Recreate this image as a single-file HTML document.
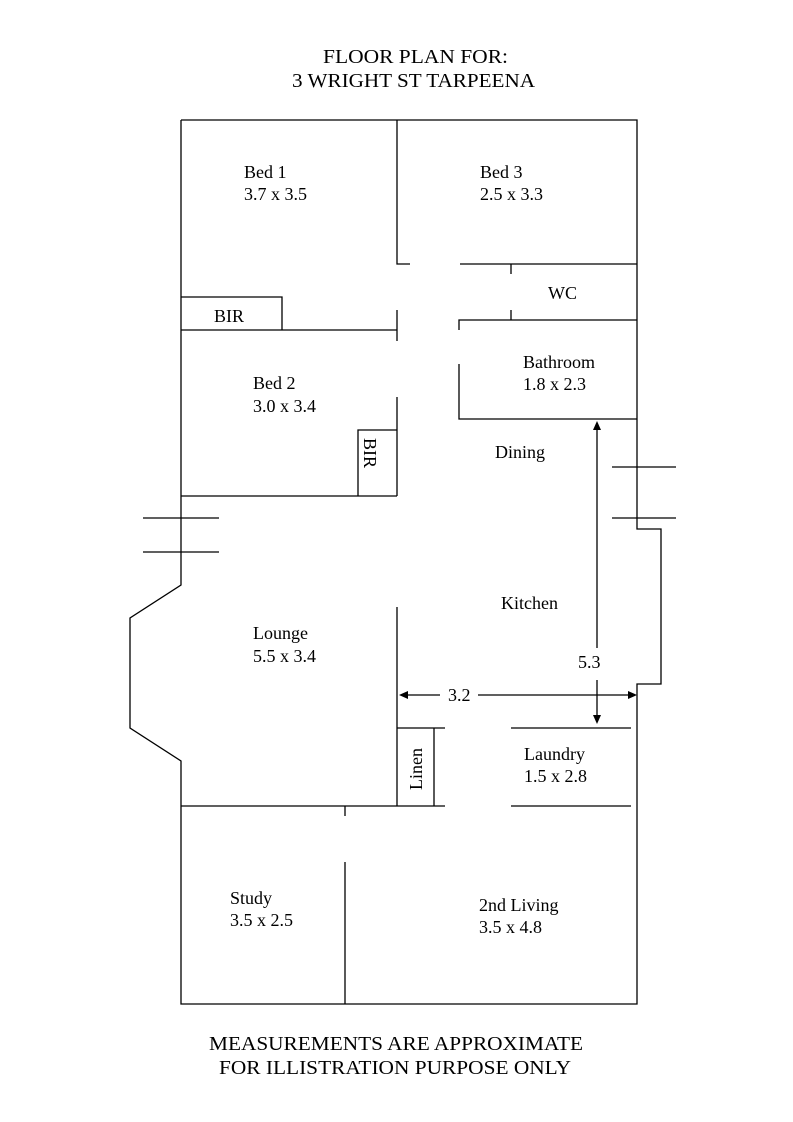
<!DOCTYPE html>
<html><head><style>
body{margin:0;background:#fff;}
svg{display:block;}
text{font-family:"Liberation Serif",serif;fill:#000;}
</style></head><body>
<svg width="793" height="1122" viewBox="0 0 793 1122" xmlns="http://www.w3.org/2000/svg">
<g stroke="#000" stroke-width="1.3" fill="none">
<polyline points="181,120 637,120 637,529 661,529 661,684 637,684 637,1004 181,1004 181,761 130,728 130,618 181,585 181,120"/>
<line x1="612" y1="467" x2="676" y2="467"/>
<line x1="612" y1="518" x2="676" y2="518"/>
<line x1="143" y1="518" x2="219" y2="518"/>
<line x1="143" y1="552" x2="219" y2="552"/>
<polyline points="397,120 397,264 410,264"/>
<line x1="460" y1="264" x2="637" y2="264"/>
<line x1="511" y1="264" x2="511" y2="274"/>
<line x1="511" y1="310" x2="511" y2="320"/>
<polyline points="459,330 459,320 637,320"/>
<polyline points="459,364 459,419 637,419"/>
<polyline points="181,297 282,297 282,330"/>
<line x1="181" y1="330" x2="397" y2="330"/>
<line x1="397" y1="310" x2="397" y2="341"/>
<line x1="397" y1="397" x2="397" y2="496"/>
<line x1="181" y1="496" x2="397" y2="496"/>
<polyline points="358,496 358,430 397,430"/>
<line x1="397" y1="607" x2="397" y2="806"/>
<polyline points="397,728 445,728"/>
<line x1="434" y1="728" x2="434" y2="806"/>
<line x1="181" y1="806" x2="445" y2="806"/>
<line x1="511" y1="728" x2="631" y2="728"/>
<line x1="511" y1="806" x2="631" y2="806"/>
<line x1="345" y1="806" x2="345" y2="816"/>
<line x1="345" y1="862" x2="345" y2="1004"/>
<line x1="597" y1="428" x2="597" y2="648"/>
<line x1="597" y1="680" x2="597" y2="716"/>
<line x1="406" y1="695" x2="440" y2="695"/>
<line x1="478" y1="695" x2="629" y2="695"/>
</g>
<g fill="#000">
<polygon points="597,421 593,430 601,430"/>
<polygon points="597,724 593,715 601,715"/>
<polygon points="399,695 408,691 408,699"/>
<polygon points="637,695 628,691 628,699"/>
</g>
<g font-size="20">
<text x="323" y="63" textLength="185" lengthAdjust="spacingAndGlyphs">FLOOR PLAN FOR:</text>
<text x="292" y="87" textLength="243" lengthAdjust="spacingAndGlyphs">3 WRIGHT ST TARPEENA</text>
<text x="209" y="1050" textLength="374" lengthAdjust="spacingAndGlyphs">MEASUREMENTS ARE APPROXIMATE</text>
<text x="219" y="1074" textLength="352" lengthAdjust="spacingAndGlyphs">FOR ILLISTRATION PURPOSE ONLY</text>
</g>
<g font-size="18">
<text x="244" y="178">Bed 1</text><text x="244" y="200">3.7 x 3.5</text>
<text x="480" y="178">Bed 3</text><text x="480" y="200">2.5 x 3.3</text>
<text x="548" y="299">WC</text>
<text x="214" y="322">BIR</text>
<text x="523" y="368">Bathroom</text><text x="523" y="390">1.8 x 2.3</text>
<text x="253" y="389">Bed 2</text><text x="253" y="412">3.0 x 3.4</text>
<text x="495" y="458">Dining</text>
<text x="501" y="609">Kitchen</text>
<text x="253" y="639">Lounge</text><text x="253" y="662">5.5 x 3.4</text>
<text x="578" y="668">5.3</text>
<text x="448" y="701">3.2</text>
<text x="524" y="760">Laundry</text><text x="524" y="782">1.5 x 2.8</text>
<text x="230" y="904">Study</text><text x="230" y="926">3.5 x 2.5</text>
<text x="479" y="911">2nd Living</text><text x="479" y="933">3.5 x 4.8</text>
<text transform="translate(364,438) rotate(90)">BIR</text>
<text transform="translate(422,790) rotate(-90)">Linen</text>
</g>
</svg>
</body></html>
